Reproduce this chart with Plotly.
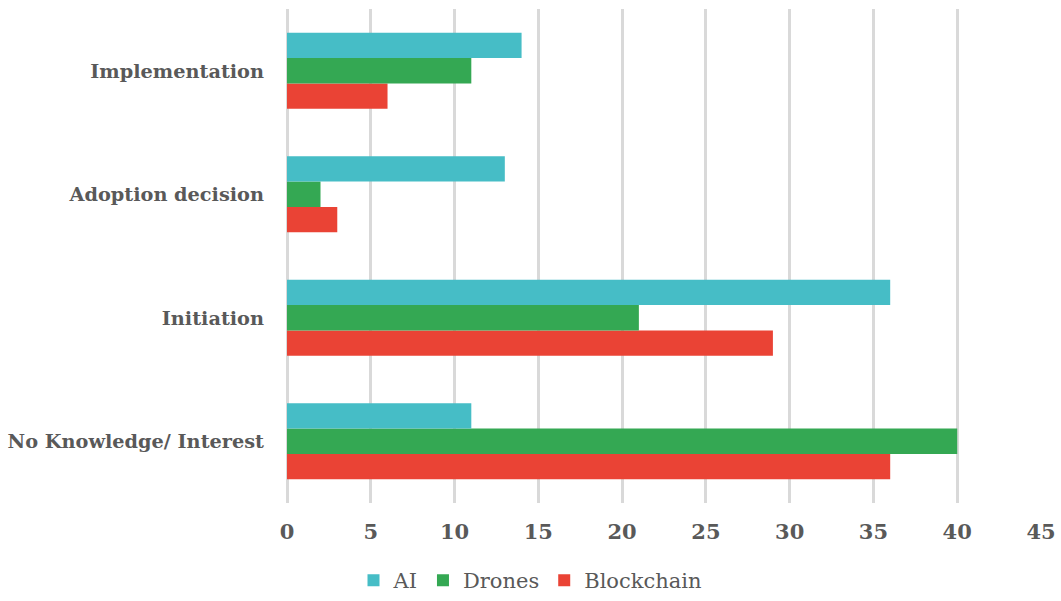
import plotly.graph_objects as go

categories = ["No Knowledge/ Interest", "Initiation", "Adoption decision", "Implementation"]
ai = [11, 36, 13, 14]
drones = [40, 21, 2, 11]
blockchain = [36, 29, 3, 6]
x_ticks = [0, 5, 10, 15, 20, 25, 30, 35, 40, 45]

FONT = "'DejaVu Serif', 'Liberation Serif', serif"
TXT = "#595959"

fig = go.Figure()
fig.add_trace(go.Bar(name="Blockchain", y=categories, x=blockchain, orientation="h",
                     marker=dict(color="#EA4335", line=dict(width=0))))
fig.add_trace(go.Bar(name="Drones", y=categories, x=drones, orientation="h",
                     marker=dict(color="#34A853", line=dict(width=0))))
fig.add_trace(go.Bar(name="AI", y=categories, x=ai, orientation="h",
                     marker=dict(color="#46BDC6", line=dict(width=0))))

fig.update_layout(
    width=1061, height=601,
    margin=dict(l=287, r=20, t=9, b=98),
    barmode="group", bargap=0.383, bargroupgap=0,
    plot_bgcolor="white", paper_bgcolor="white",
    font=dict(family=FONT, size=20, color=TXT),
    legend=dict(orientation="h", traceorder="reversed", x=0.5, xref="container",
                xanchor="center", y=-0.012, yref="container", yanchor="bottom",
                font=dict(family=FONT, size=21, color=TXT),
                itemwidth=30, itemsizing="constant"),
    showlegend=True,
)
fig.update_xaxes(range=[0, 45], tickvals=x_ticks, showgrid=True, gridcolor="#D9D9D9",
                 gridwidth=2.5, zeroline=True, zerolinecolor="#D9D9D9", zerolinewidth=2.5,
                 showline=False, ticks="", automargin=False,
                 ticklabelstandoff=14,
                 tickfont=dict(family=FONT, size=21, color=TXT, weight="bold"))
fig.update_yaxes(categoryorder="array", categoryarray=categories, showgrid=False,
                 zeroline=False, showline=False, ticks="", ticklabelstandoff=22,
                 automargin=False,
                 tickfont=dict(family=FONT, size=19.3, color=TXT, weight="bold"))

fig.write_html("out.html")
